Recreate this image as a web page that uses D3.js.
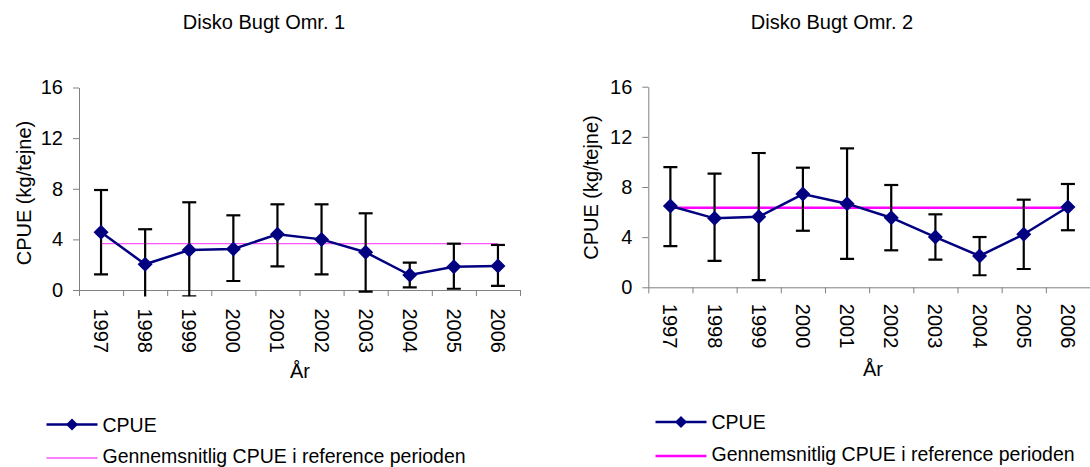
<!DOCTYPE html>
<html>
<head>
<meta charset="utf-8">
<script src="https://cdn.jsdelivr.net/npm/d3@7"></script>
<style>
  body { margin: 0; background: #fff; }
  svg text { font-family: "Liberation Sans", Arial, sans-serif; fill: #000; }
</style>
</head>
<body>
<svg id="svg" width="1090" height="467"></svg>
<script>
// data
var years = ["1997", "1998", "1999", "2000", "2001", "2002", "2003", "2004", "2005", "2006"];
var yTicks = [0, 4, 8, 12, 16];

var cpue1  = [4.56, 2.03, 3.16, 3.24, 4.40, 4.00, 2.98, 1.18, 1.84, 1.90];
var upper1 = [7.90, 4.80, 6.93, 5.90, 6.77, 6.77, 6.06, 2.16, 3.66, 3.56];
var lower1 = [1.24, -1.00, -0.50, 0.71, 1.87, 1.24, -0.13, 0.21, 0.10, 0.32];
var mean1 = 3.66;

var cpue2  = [6.48, 5.50, 5.63, 7.44, 6.67, 5.55, 4.01, 2.50, 4.23, 6.40];
var upper2 = [9.59, 9.06, 10.71, 9.54, 11.08, 8.16, 5.82, 4.01, 6.99, 8.24];
var lower2 = [3.29, 2.10, 0.58, 4.51, 2.26, 2.95, 2.20, 0.96, 1.46, 4.55];
var mean2 = 6.35;

var svg = d3.select("#svg");
var fontSize = 20;
var legendFont = 19.5;

var panels = [
  { id: 1, title: "Disko Bugt Omr. 1", cpue: cpue1, upper: upper1, lower: lower1, mean: mean1,
    left: 79, right: 520, top: 87.5, bottom: 290,
    titleX: 264, titleY: 29, yLabX: 31, yLabY: 193, yearOff: 18.5, arX: 300, arY: 378,
    meanColor: "#ff55ff", meanWidth: 1.3,
    legX: 46.5, legY1: 424.5, legY2: 458 },
  { id: 2, title: "Disko Bugt Omr. 2", cpue: cpue2, upper: upper2, lower: lower2, mean: mean2,
    left: 648.3, right: 1090, top: 86.7, bottom: 287.3,
    titleX: 832, titleY: 29, yLabX: 598, yLabY: 187.5, yearOff: 16.5, arX: 873, arY: 376,
    meanColor: "#ff00ff", meanWidth: 2.5,
    legX: 655.5, legY1: 422, legY2: 456 }
];

function diamond(g, x, y, r) {
  g.append("path")
    .attr("d", "M" + x + "," + (y - r) + "L" + (x + r) + "," + y + "L" + x + "," + (y + r) + "L" + (x - r) + "," + y + "Z")
    .attr("fill", "#000080");
}

panels.forEach(function(p) {
  var g = svg.append("g");

  var x = d3.scaleBand().domain(years).range([p.left, p.right]).padding(0);
  var xLin = d3.scaleLinear().domain([0, years.length]).range([p.left, p.right]);
  var y = d3.scaleLinear().domain([0, 16]).range([p.bottom, p.top]);
  var cx = function(i) { return x(years[i]) + x.bandwidth() / 2; };

  // title
  g.append("text").attr("x", p.titleX).attr("y", p.titleY)
    .attr("text-anchor", "middle").style("font-size", fontSize + "px").text(p.title);

  // y axis
  var yAxis = g.append("g").attr("transform", "translate(" + p.left + ",0)")
    .call(d3.axisLeft(y).tickValues(yTicks).tickSize(6).tickSizeOuter(0).tickPadding(10));
  yAxis.selectAll("path, line").attr("stroke", "#808080");
  yAxis.selectAll("text").style("font-size", fontSize + "px").style("font-family", "Liberation Sans, Arial, sans-serif").attr("fill", "#000");

  // x axis, ticks between categories
  var xAxis = g.append("g").attr("transform", "translate(0," + p.bottom + ")")
    .call(d3.axisBottom(xLin).tickValues(d3.range(0, years.length + 1)).tickFormat("").tickSize(6).tickSizeOuter(0));
  xAxis.selectAll("path, line").attr("stroke", "#808080");

  years.forEach(function(yr, i) {
    g.append("text")
      .attr("transform", "translate(" + cx(i) + "," + (p.bottom + p.yearOff) + ") rotate(90)")
      .attr("dy", "0.35em")
      .style("font-size", fontSize + "px")
      .text(yr);
  });

  // axis titles
  g.append("text").attr("x", p.arX).attr("y", p.arY).attr("text-anchor", "middle")
    .style("font-size", fontSize + "px").text("År");
  g.append("text").attr("transform", "translate(" + p.yLabX + "," + p.yLabY + ") rotate(-90)")
    .attr("text-anchor", "middle").style("font-size", fontSize + "px").text("CPUE (kg/tejne)");

  // mean line
  g.append("line")
    .attr("x1", cx(0)).attr("x2", cx(years.length - 1))
    .attr("y1", y(p.mean)).attr("y2", y(p.mean))
    .attr("stroke", p.meanColor).attr("stroke-width", p.meanWidth);

  // error bars (clipped a little below the axis, as the original)
  svg.append("clipPath").attr("id", "clip" + p.id)
    .append("rect").attr("x", p.left - 20).attr("y", 0)
    .attr("width", p.right - p.left + 40).attr("height", p.bottom + 6.5);
  var eb = g.append("g").attr("clip-path", "url(#clip" + p.id + ")")
    .attr("stroke", "#000").attr("stroke-width", 2.2);
  p.cpue.forEach(function(v, i) {
    eb.append("line").attr("x1", cx(i)).attr("x2", cx(i))
      .attr("y1", y(p.upper[i])).attr("y2", y(p.lower[i]));
    [p.upper[i], p.lower[i]].forEach(function(e) {
      eb.append("line").attr("x1", cx(i) - 7).attr("x2", cx(i) + 7)
        .attr("y1", y(e)).attr("y2", y(e));
    });
  });

  // cpue line + markers
  var line = d3.line().x(function(d, i) { return cx(i); }).y(function(d) { return y(d); });
  g.append("path").datum(p.cpue).attr("d", line)
    .attr("fill", "none").attr("stroke", "#000080").attr("stroke-width", 2.5);
  p.cpue.forEach(function(v, i) { diamond(g, cx(i), y(v), 7.5); });

  // legend
  var lg = g.append("g");
  lg.append("line").attr("x1", p.legX).attr("x2", p.legX + 51)
    .attr("y1", p.legY1).attr("y2", p.legY1)
    .attr("stroke", "#000080").attr("stroke-width", 2.5);
  diamond(lg, p.legX + 25.5, p.legY1, 6);
  lg.append("text").attr("x", p.legX + 56).attr("y", p.legY1 + 7)
    .style("font-size", legendFont + "px").text("CPUE");
  lg.append("line").attr("x1", p.legX).attr("x2", p.legX + 51)
    .attr("y1", p.legY2).attr("y2", p.legY2)
    .attr("stroke", p.meanColor).attr("stroke-width", p.meanWidth);
  lg.append("text").attr("x", p.legX + 56).attr("y", p.legY2 + 4.5)
    .style("font-size", legendFont + "px").text("Gennemsnitlig CPUE i reference perioden");
});
</script>
</body>
</html>
